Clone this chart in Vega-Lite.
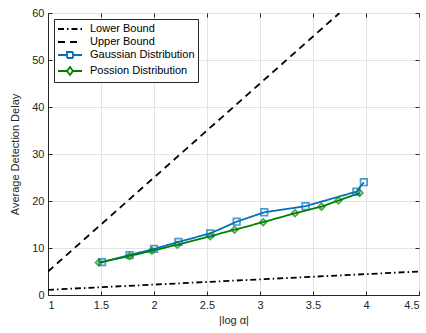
{
  "$schema": "https://vega.github.io/schema/vega-lite/v6.json",
  "width": 371,
  "height": 282,
  "autosize": {"type": "none"},
  "padding": {"left": 48, "top": 13, "right": 7, "bottom": 38},
  "background": "white",
  "config": {
    "font": "Liberation Sans",
    "view": {"stroke": "#262626", "strokeWidth": 1},
    "axis": {
      "labelFontSize": 11,
      "labelColor": "#262626",
      "titleFontSize": 11,
      "titleColor": "#262626",
      "titleFontWeight": "normal",
      "domainColor": "#262626",
      "tickColor": "#262626",
      "gridColor": "#e3e3e3",
      "gridWidth": 1,
      "tickSize": -4,
      "labelPadding": 8
    },
    "legend": {
      "orient": "top-left",
      "offset": 6,
      "padding": 3,
      "strokeColor": "#262626",
      "fillColor": "white",
      "labelFontSize": 11,
      "labelColor": "#000000",
      "symbolSize": 144,
      "symbolOffset": 6,
      "labelOffset": 13,
      "rowPadding": 1,
      "symbolStrokeWidth": 1.8
    }
  },
  "data": {
    "values": [
      {"series": "Lower Bound", "x": 1, "y": 1.1},
      {"series": "Lower Bound", "x": 4.5, "y": 5.0},
      {"series": "Upper Bound", "x": 1, "y": 5},
      {"series": "Upper Bound", "x": 3.75, "y": 60},
      {"series": "Gaussian Distribution", "x": 1.51, "y": 7.0},
      {"series": "Gaussian Distribution", "x": 1.77, "y": 8.5},
      {"series": "Gaussian Distribution", "x": 2.0, "y": 9.8},
      {"series": "Gaussian Distribution", "x": 2.23, "y": 11.3},
      {"series": "Gaussian Distribution", "x": 2.53, "y": 13.1},
      {"series": "Gaussian Distribution", "x": 2.78, "y": 15.6},
      {"series": "Gaussian Distribution", "x": 3.04, "y": 17.6},
      {"series": "Gaussian Distribution", "x": 3.43, "y": 18.9},
      {"series": "Gaussian Distribution", "x": 3.91, "y": 22.0},
      {"series": "Gaussian Distribution", "x": 3.98, "y": 24.0},
      {"series": "Possion Distribution", "x": 1.48, "y": 6.9},
      {"series": "Possion Distribution", "x": 1.77, "y": 8.3},
      {"series": "Possion Distribution", "x": 1.98, "y": 9.4},
      {"series": "Possion Distribution", "x": 2.22, "y": 10.7},
      {"series": "Possion Distribution", "x": 2.53, "y": 12.5},
      {"series": "Possion Distribution", "x": 2.76, "y": 13.9},
      {"series": "Possion Distribution", "x": 3.03, "y": 15.5},
      {"series": "Possion Distribution", "x": 3.33, "y": 17.4},
      {"series": "Possion Distribution", "x": 3.58, "y": 18.8},
      {"series": "Possion Distribution", "x": 3.74, "y": 20.1},
      {"series": "Possion Distribution", "x": 3.94, "y": 21.7}
    ]
  },
  "layer": [
    {
      "mark": {"type": "line", "strokeWidth": 1.8, "clip": true},
      "encoding": {
        "x": {
          "field": "x", "type": "quantitative",
          "scale": {"domain": [1, 4.5], "nice": false, "zero": false},
          "axis": {"values": [1, 1.5, 2, 2.5, 3, 3.5, 4, 4.5], "format": "~g", "title": "|log α|", "titlePadding": 4}
        },
        "y": {
          "field": "y", "type": "quantitative",
          "scale": {"domain": [0, 60], "nice": false},
          "axis": {"values": [0, 10, 20, 30, 40, 50, 60], "title": "Average Detection Delay", "titlePadding": 11}
        },
        "color": {
          "field": "series", "type": "nominal",
          "scale": {"domain": ["Lower Bound", "Upper Bound", "Gaussian Distribution", "Possion Distribution"], "range": ["#000000", "#000000", "#0072BD", "#008000"]},
          "legend": {
            "title": null,
            "encode": {
              "symbols": {
                "update": {
                  "shape": {"signal": "datum.value === 'Gaussian Distribution' ? 'M-2,0H-0.5M0.5,0H2M-0.5,-0.5H0.5V0.5H-0.5Z' : (datum.value === 'Possion Distribution' ? 'M-2,0H-0.5M0.5,0H2M0,-0.65L0.5,0L0,0.65L-0.5,0Z' : 'M-2,0H2')"},
                  "fill": {"value": "white"}
                }
              }
            }
          }
        },
        "strokeDash": {
          "field": "series", "type": "nominal",
          "scale": {"domain": ["Lower Bound", "Upper Bound", "Gaussian Distribution", "Possion Distribution"], "range": [[6, 3, 1.5, 3], [7, 5], [1, 0], [1, 0]]},
          "legend": {"title": null}
        }
      }
    },
    {
      "transform": [{"filter": {"field": "series", "oneOf": ["Gaussian Distribution", "Possion Distribution"]}}],
      "mark": {"type": "point", "filled": false, "strokeWidth": 1.7, "size": 44},
      "encoding": {
        "x": {
          "field": "x", "type": "quantitative",
          "axis": {"orient": "top", "values": [1, 1.5, 2, 2.5, 3, 3.5, 4, 4.5], "labels": false, "grid": false, "domain": false, "title": null}
        },
        "y": {
          "field": "y", "type": "quantitative",
          "axis": {"orient": "right", "values": [0, 10, 20, 30, 40, 50, 60], "labels": false, "grid": false, "domain": false, "title": null}
        },
        "stroke": {
          "field": "series", "type": "nominal",
          "scale": {"domain": ["Gaussian Distribution", "Possion Distribution"], "range": ["#0072BD", "#008000"]},
          "legend": null
        },
        "shape": {
          "field": "series", "type": "nominal",
          "scale": {"domain": ["Gaussian Distribution", "Possion Distribution"], "range": ["square", "diamond"]},
          "legend": null
        }
      }
    }
  ],
  "resolve": {"axis": {"x": "independent", "y": "independent"}}
}
